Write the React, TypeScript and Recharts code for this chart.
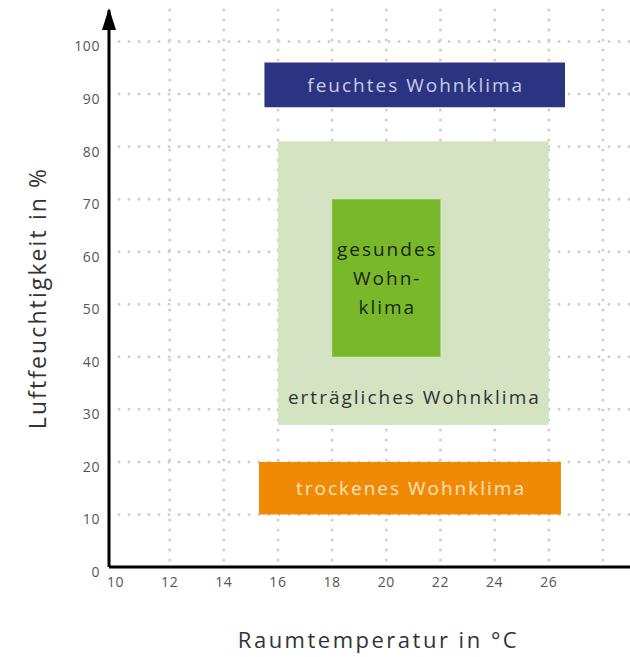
import { ComposedChart, XAxis, YAxis, CartesianGrid, ReferenceArea, ReferenceDot, Scatter, Label } from 'recharts'

// climate zones: temperature (°C) and humidity (%) ranges
const zoneNames = ['erträgliches Wohnklima', 'gesundes Wohnklima', 'feuchtes Wohnklima', 'trockenes Wohnklima']
const zoneLines = [['erträgliches Wohnklima'], ['gesundes', 'Wohn-', 'klima'], ['feuchtes Wohnklima'], ['trockenes Wohnklima']]
const tempFrom = [16, 18, 15.5, 15.3]
const tempTo = [26, 22, 26.6, 26.45]
const humFrom = [27, 40, 87.5, 10]
const humTo = [81, 70, 96, 20]

const xTicks = [10, 12, 14, 16, 18, 20, 22, 24, 26]
const yTicks = [0, 10, 20, 30, 40, 50, 60, 70, 80, 90, 100]
const xGrid = [12, 14, 16, 18, 20, 22, 24, 26, 28]
const yGrid = [10, 20, 30, 40, 50, 60, 70, 80, 90, 100]
const xDomain = [9.76, 29]
const yDomain = [0, 106]

const fills = ['#d4e4c3', '#78b82a', '#2b3480', '#f08a05']
const textColors = ['#333333', '#1b2610', '#c8cbe8', '#fde3bd']
const font = '"Open Sans", sans-serif'

const ZoneLabel = ({ viewBox, lines, color, bottom }: any) => {
  const { x, y, width, height } = viewBox
  const cx = x + width / 2 + 1
  const lh = 29
  const startY = bottom ? y + height - 28 : y + height / 2 - ((lines.length - 1) * lh) / 2
  return (
    <text x={cx} textAnchor="middle" fill={color} fontFamily={font} fontSize={19} letterSpacing={2}>
      {lines.map((l: string, i: number) => (
        <tspan key={i} x={cx} y={startY + i * lh} dy="0.35em">
          {l}
        </tspan>
      ))}
    </text>
  )
}

const Arrow = ({ cx, cy }: any) => (
  <polygon points={`${cx},${cy - 2} ${cx - 7},${cy + 20} ${cx + 7},${cy + 20}`} fill="#000" />
)

export default function App() {
  return (
    <div style={{ position: 'absolute', left: 0, top: 0 }}>
      <ComposedChart width={630} height={657} margin={{ top: 10, right: 0, left: 0, bottom: 0 }}>
        <CartesianGrid
          horizontalValues={yGrid}
          verticalValues={xGrid}
          stroke="#cfcfcf"
          strokeWidth={3}
          strokeDasharray="0 10"
          strokeLinecap="round"
        />
        <XAxis
          type="number"
          dataKey="t"
          domain={xDomain}
          ticks={xTicks}
          allowDataOverflow
          height={90}
          tickLine={false}
          tickSize={0}
          tickMargin={10}
          axisLine={{ stroke: '#000', strokeWidth: 3 }}
          tick={{ fill: '#555', fontSize: 14, fontFamily: font, letterSpacing: 0.6 }}
        >
          <Label
            content={({ viewBox }: any) => (
              <text x={viewBox.x + viewBox.width / 2 + 9} y={viewBox.y + 81} textAnchor="middle" fill="#333" fontFamily={font} fontSize={22} letterSpacing={2.5}>
                Raumtemperatur in °C
              </text>
            )}
          />
        </XAxis>
        <YAxis
          type="number"
          dataKey="h"
          domain={yDomain}
          ticks={yTicks}
          allowDataOverflow
          width={109}
          tickLine={false}
          tickSize={0}
          tickMargin={9}
          axisLine={{ stroke: '#000', strokeWidth: 3 }}
          tick={{ fill: '#555', fontSize: 14, fontFamily: font, letterSpacing: 0.6, dy: 5 }}
        >
          <Label
            content={() => (
              <text x={37} y={298} transform="rotate(-90 37 298)" textAnchor="middle" dominantBaseline="central" fill="#333" fontFamily={font} fontSize={23} letterSpacing={2.1}>
                Luftfeuchtigkeit in %
              </text>
            )}
          />
        </YAxis>
        {zoneNames.map((name, i) => (
          <ReferenceArea
            key={name}
            x1={tempFrom[i]}
            x2={tempTo[i]}
            y1={humFrom[i]}
            y2={humTo[i]}
            fill={fills[i]}
            fillOpacity={1}
            stroke="none"
            label={<ZoneLabel lines={zoneLines[i]} color={textColors[i]} bottom={i === 0} />}
          />
        ))}
        <Scatter data={[]} isAnimationActive={false} />
        <ReferenceDot x={xDomain[0]} y={yDomain[1]} r={0} shape={<Arrow />} ifOverflow="visible" />
      </ComposedChart>
    </div>
  )
}
